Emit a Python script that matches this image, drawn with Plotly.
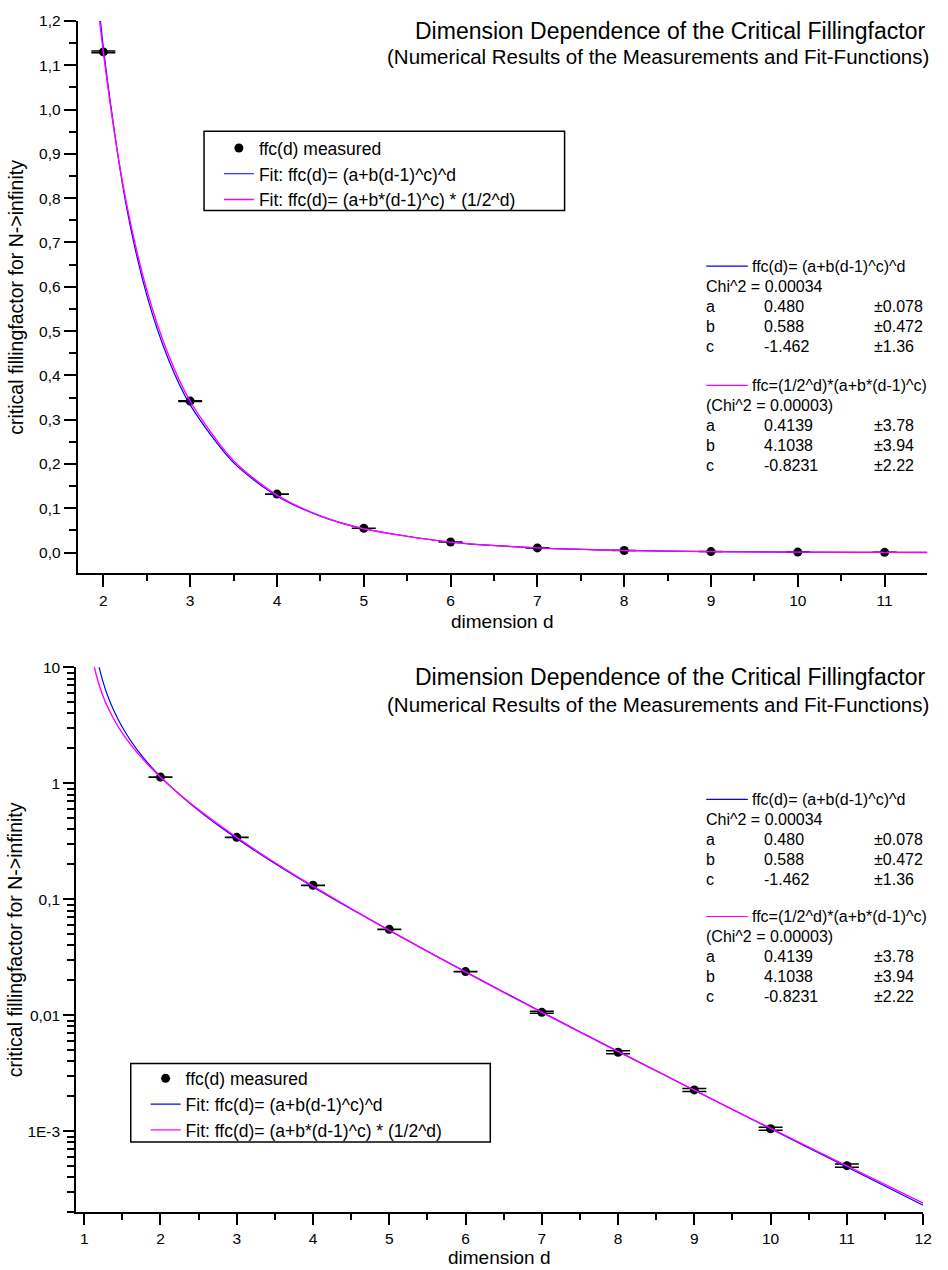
import plotly.graph_objects as go

# ---------------- data ----------------
d_measured = [2, 3, 4, 5, 6, 7, 8, 9, 10, 11]
ffc_measured = [1.13, 0.342, 0.132, 0.055, 0.0238, 0.0106, 0.0048, 0.00227, 0.00105, 0.000505]
ffc_error = [0.002, 0.0008, 0.0003, 0.00012, 0.00006, 0.0002, 0.00014, 0.00007, 0.000033, 0.000016]

fit1_d = [1.19, 1.2, 1.25, 1.3, 1.4, 1.5, 1.6, 1.7, 1.85, 2, 2.25, 2.5, 2.75, 3, 3.5, 4,
          4.5, 5, 6, 7, 8, 9, 10, 11, 12]
fit1_ffc = [10.38, 9.74, 7.37, 5.86, 4.07, 3.04, 2.384, 1.925, 1.457, 1.140, 0.798, 0.581,
            0.436, 0.3335, 0.203, 0.1279, 0.0824, 0.0539, 0.0237, 0.01067, 0.00488,
            0.002256, 0.001051, 0.000491, 0.000230]

fit2_d = [1.13, 1.15, 1.2, 1.25, 1.3, 1.4, 1.5, 1.6, 1.7, 1.85, 2, 2.25, 2.5, 2.75, 3, 3.5,
          4, 4.5, 5, 6, 7, 8, 9, 10, 11, 12]
fit2_ffc = [10.25, 9.0, 6.90, 5.58, 4.66, 3.46, 2.71, 2.198, 1.82, 1.416, 1.129, 0.805,
            0.593, 0.4464, 0.3416, 0.2072, 0.1297, 0.0830, 0.0539, 0.02352, 0.01057,
            0.00485, 0.002256, 0.001061, 0.000503, 0.000240]

lin_tickvals = [0.0, 0.1, 0.2, 0.3, 0.4, 0.5, 0.6, 0.7, 0.8, 0.9, 1.0, 1.1, 1.2]
lin_ticktext = ["0,0", "0,1", "0,2", "0,3", "0,4", "0,5", "0,6", "0,7", "0,8", "0,9",
                "1,0", "1,1", "1,2"]
log_tickvals = [10, 1, 0.1, 0.01, 0.001]
log_ticktext = ["10", "1", "0,1", "0,01", "1E-3"]

title_main = "Dimension Dependence of the Critical Fillingfactor"
title_sub = "(Numerical Results of the Measurements and Fit-Functions)"
x_title = "dimension d"
y_title = "critical fillingfactor for N->infinity"

legend_names = ["ffc(d) measured", "Fit: ffc(d)= (a+b(d-1)^c)^d",
                "Fit: ffc(d)= (a+b*(d-1)^c) * (1/2^d)"]

fit1_label = "ffc(d)= (a+b(d-1)^c)^d"
fit1_chi = "Chi^2 = 0.00034"
fit1_params = [["a", "0.480", "±0.078"], ["b", "0.588", "±0.472"], ["c", "-1.462", "±1.36"]]
fit2_label = "ffc=(1/2^d)*(a+b*(d-1)^c)"
fit2_chi = "(Chi^2 = 0.00003)"
fit2_params = [["a", "0.4139", "±3.78"], ["b", "4.1038", "±3.94"], ["c", "-0.8231", "±2.22"]]

# ---------------- figure ----------------
W, H = 948, 1270
FONT = "Liberation Sans, Arial, sans-serif"
BLUE = "#0000ff"
PINK = "#ff00ff"


def px(x):
    return x / W


def py(y):
    return 1 - y / H


fig = go.Figure()

for xa, ya, lg in [("x", "y", "legend"), ("x2", "y2", "legend2")]:
    fig.add_trace(go.Scatter(
        x=d_measured, y=ffc_measured, mode="markers", name=legend_names[0],
        marker=dict(color="black", size=9),
        error_y=dict(type="data", array=ffc_error, visible=True, color="black",
                     thickness=1.5, width=12),
        xaxis=xa, yaxis=ya, legend=lg))
    fig.add_trace(go.Scatter(
        x=fit1_d, y=fit1_ffc, mode="lines", name=legend_names[1],
        line=dict(color=BLUE, width=1.2, shape="spline", smoothing=0.8),
        xaxis=xa, yaxis=ya, legend=lg))
    fig.add_trace(go.Scatter(
        x=fit2_d, y=fit2_ffc, mode="lines", name=legend_names[2],
        line=dict(color=PINK, width=1.4, shape="spline", smoothing=0.8),
        xaxis=xa, yaxis=ya, legend=lg))

axis_common = dict(showline=True, linecolor="black", linewidth=2, ticks="outside",
                   tickcolor="black", tickwidth=2, showgrid=False, zeroline=False,
                   tickfont=dict(family=FONT, size=15.5, color="black"), mirror=False)

minor_common = dict(tickmode="array", tickwidth=2, tickcolor="black", ticks="outside",
                    showgrid=False)

fig.update_layout(
    width=W, height=H, margin=dict(l=0, r=0, t=0, b=0),
    paper_bgcolor="white", plot_bgcolor="white",
    font=dict(family=FONT, color="black"),
    xaxis=dict(domain=[px(78.5), px(936)], range=[1.705, 11.49], anchor="y",
               tickmode="array", tickvals=list(range(2, 12)), ticklen=12,
               minor=dict(tickvals=[2.5 + i for i in range(9)], ticklen=6, **minor_common),
               **axis_common),
    yaxis=dict(domain=[py(568), py(12)], range=[-0.046, 1.2], anchor="x",
               tickmode="array", tickvals=lin_tickvals, ticktext=lin_ticktext, ticklen=12,
               minor=dict(tickvals=[0.05 + 0.1 * i for i in range(12)], ticklen=7,
                          **minor_common),
               **axis_common),
    xaxis2=dict(domain=[px(77), px(932)], range=[0.896, 12], anchor="y2",
                tickmode="array", tickvals=list(range(1, 13)), ticklen=11,
                minor=dict(tickvals=[1.5 + i for i in range(11)], ticklen=6, **minor_common),
                **axis_common),
    yaxis2=dict(domain=[py(1212), py(663)], type="log", range=[-3.70, 1], anchor="x2",
                tickmode="array", tickvals=log_tickvals, ticktext=log_ticktext, ticklen=11,
                minor=dict(tickvals=[m * 10 ** e for e in range(-4, 1) for m in range(2, 10)],
                           ticklen=7, **minor_common),
                **axis_common),
    legend=dict(x=px(221), y=py(122), xanchor="left", yanchor="top",
                borderwidth=0, bgcolor="rgba(0,0,0,0)",
                font=dict(family=FONT, size=17.5, color="black"), tracegroupgap=0),
    legend2=dict(x=px(147), y=py(1059), xanchor="left", yanchor="top",
                 borderwidth=0, bgcolor="rgba(0,0,0,0)",
                 font=dict(family=FONT, size=17.5, color="black"), tracegroupgap=0),
    showlegend=True,
)

annotations = []
shapes = []

# legend frames
for x0, x1, y0, y1 in [(206, 570, 123, 203), (132, 495, 1062, 1141)]:
    shapes.append(dict(type="rect", xref="paper", yref="paper",
                       x0=px(x0), x1=px(x1), y0=py(y1), y1=py(y0),
                       line=dict(color="black", width=1.5), fillcolor="rgba(0,0,0,0)",
                       layer="above"))

# titles
for ty, sy in [(22, 48), (673, 700)]:
    annotations.append(dict(x=px(936), y=py(ty), xref="paper", yref="paper", text=title_main,
                            showarrow=False, xanchor="right", yanchor="middle",
                            font=dict(family=FONT, size=23, color="black")))
    annotations.append(dict(x=px(940), y=py(sy), xref="paper", yref="paper", text=title_sub,
                            showarrow=False, xanchor="right", yanchor="middle",
                            font=dict(family=FONT, size=20.5, color="black")))

# axis titles
for cx, cy in [(507, 617), (504, 1257)]:
    annotations.append(dict(x=px(cx), y=py(cy), xref="paper", yref="paper", text=x_title,
                            showarrow=False, xanchor="center", yanchor="middle",
                            font=dict(family=FONT, size=19, color="black")))
for cx, cy in [(16, 290), (16, 937)]:
    annotations.append(dict(x=px(cx), y=py(cy), xref="paper", yref="paper", text=y_title,
                            showarrow=False, xanchor="center", yanchor="middle", textangle=-90,
                            font=dict(family=FONT, size=19.5, color="black")))


# parameter tables
def add_block(y0, label, chi, params, color):
    shapes.append(dict(type="line", xref="paper", yref="paper",
                       x0=px(713), x1=px(755), y0=py(y0), y1=py(y0),
                       line=dict(color=color, width=1.2)))
    annotations.append(dict(x=px(757), y=py(y0), xref="paper", yref="paper", text=label,
                            showarrow=False, xanchor="left", yanchor="middle",
                            font=dict(family=FONT, size=16, color="black")))
    annotations.append(dict(x=px(711), y=py(y0 + 20.5), xref="paper", yref="paper", text=chi,
                            showarrow=False, xanchor="left", yanchor="middle",
                            font=dict(family=FONT, size=16, color="black")))
    for i, (n, v, e) in enumerate(params):
        yy = y0 + 40.5 + 20 * i
        for xx, t in [(711, n), (769, v), (880, e)]:
            annotations.append(dict(x=px(xx), y=py(yy), xref="paper", yref="paper", text=t,
                                    showarrow=False, xanchor="left", yanchor="middle",
                                    font=dict(family=FONT, size=16, color="black")))


add_block(259, fit1_label, fit1_chi, fit1_params, BLUE)
add_block(379, fit2_label, fit2_chi, fit2_params, PINK)
add_block(796, fit1_label, fit1_chi, fit1_params, BLUE)
add_block(914, fit2_label, fit2_chi, fit2_params, PINK)

fig.update_layout(annotations=annotations, shapes=shapes)

fig.write_html(
    "out.html",
    config={"displayModeBar": False},
    post_script="document.body.style.margin='0px';document.body.style.overflow='hidden';",
)
